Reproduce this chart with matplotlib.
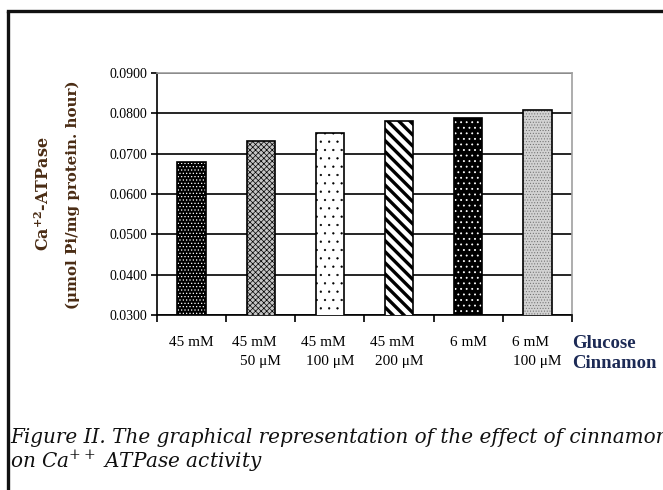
import matplotlib
matplotlib.use("Agg")
import matplotlib.pyplot as plt
from matplotlib.lines import Line2D
from matplotlib import transforms
import numpy as np

plt.rcParams['font.family'] = ['Liberation Serif', 'DejaVu Serif']
plt.rcParams['mathtext.fontset'] = 'custom'
plt.rcParams['mathtext.rm'] = 'DejaVu Serif'
plt.rcParams['mathtext.it'] = 'DejaVu Serif:italic'
plt.rcParams['mathtext.bf'] = 'DejaVu Serif:bold'

# ---- data ----
glucose = ["45 mM", "45 mM", "45 mM", "45 mM", "6 mM", "6 mM"]
cinnamon = ["", "50 \u03bcM", "100 \u03bcM", "200 \u03bcM", "", "100 \u03bcM"]
values = [0.0680, 0.0732, 0.0750, 0.0782, 0.0789, 0.0808]
yticks = [0.03, 0.04, 0.05, 0.06, 0.07, 0.08, 0.09]
ytick_labels = ["0.0300", "0.0400", "0.0500", "0.0600", "0.0700", "0.0800", "0.0900"]

# ---- styles ----
faces = ['black', '#c4c4c4', 'white', 'white', 'black', '#d2d2d2']
hatch_colors = ['white', 'black', 'black', 'black', 'white', '#6a6a6a']
hatches = ['.....', 'xxxxxx', '..', '\\\\\\', '...', '......']
hatch_lws = [0.5, 0.5, 0.4, 2.4, 0.6, 0.4]

fig = plt.figure(figsize=(6.63, 4.90), dpi=100)
ax = fig.add_axes([157/663, 1-315/490, (572-157)/663, (315-73)/490])

x = np.arange(len(values))
for i in range(len(values)):
    with plt.rc_context({'hatch.linewidth': hatch_lws[i]}):
        b = ax.bar(x[i], values[i], width=0.41, bottom=0, color=faces[i],
                   edgecolor=hatch_colors[i], hatch=hatches[i], linewidth=0, zorder=3)
        for p in b:
            if hasattr(p, 'set_hatch_linewidth'):
                p.set_hatch_linewidth(hatch_lws[i])
    ax.bar(x[i], values[i], width=0.41, fill=False, edgecolor='black',
           linewidth=1.2, zorder=4)

ax.set_xlim(-0.5, len(values) - 0.5)
ax.set_ylim(0.03, 0.09)
ax.set_yticks(yticks)
ax.set_yticklabels(ytick_labels, fontsize=10)
ax.set_xticks(np.arange(-0.5, len(values), 1.0))
ax.set_xticklabels([])
ax.tick_params(axis='y', length=4, width=1.2, pad=3)
ax.tick_params(axis='x', length=5, width=1.2)
ax.grid(axis='y', color='black', linewidth=1.2, zorder=0)
ax.set_axisbelow(True)
for s in ['left', 'bottom']:
    ax.spines[s].set_color('black')
    ax.spines[s].set_linewidth(1.2)
for s in ['top', 'right']:
    ax.spines[s].set_color('#a0a0a0')
    ax.spines[s].set_linewidth(1.2)

# category labels
trans = transforms.blended_transform_factory(ax.transData, fig.transFigure)
for i in range(len(values)):
    off = -0.1 if cinnamon[i] else 0.0
    ax.text(x[i] + off, 1 - 343/490, glucose[i], transform=trans, ha='center',
            va='center', fontsize=11)
    if cinnamon[i]:
        ax.text(x[i], 1 - 362/490, cinnamon[i], transform=trans, ha='center',
                va='center', fontsize=11)
fig.text(572/663, 1 - 344/490, "Glucose", ha='left', va='center', fontsize=13.5,
         fontweight='bold', color='#1c2a55')
fig.text(572/663, 1 - 363/490, "Cinnamon", ha='left', va='center', fontsize=13.5,
         fontweight='bold', color='#1c2a55')

# y label
ycol = '#4a2c14'
fig.text(44/663, 1 - 194/490, r"Ca$^{\mathbf{+2}}$-ATPase", rotation=90, ha='center',
         va='center', fontsize=11.5, fontweight='bold', color=ycol,
         family='DejaVu Serif')
fig.text(73/663, 1 - 195/490, "(\u03bcmol Pi/mg protein. hour)", rotation=90,
         ha='center', va='center', fontsize=10.8, fontweight='bold', color=ycol,
         family='DejaVu Serif')

# frame
fig.add_artist(Line2D([8/663, 8/663], [0, 1 - 11/490], transform=fig.transFigure,
                      color='#111111', linewidth=2.4, solid_capstyle='butt'))
fig.add_artist(Line2D([8/663, 1], [1 - 11/490, 1 - 11/490], transform=fig.transFigure,
                      color='#111111', linewidth=2.4, solid_capstyle='projecting'))

# caption
fig.text(10/663, 1 - 437/490,
         "Figure II. The graphical representation of the effect of cinnamon",
         ha='left', va='center', fontsize=14.4, style='italic', color='#111111',
         family='DejaVu Serif')
fig.text(10/663, 1 - 461/490, r"on Ca$^{++}$ ATPase activity",
         ha='left', va='center', fontsize=14.4, style='italic', color='#111111',
         family='DejaVu Serif')

fig.savefig("out.png", dpi=100)
